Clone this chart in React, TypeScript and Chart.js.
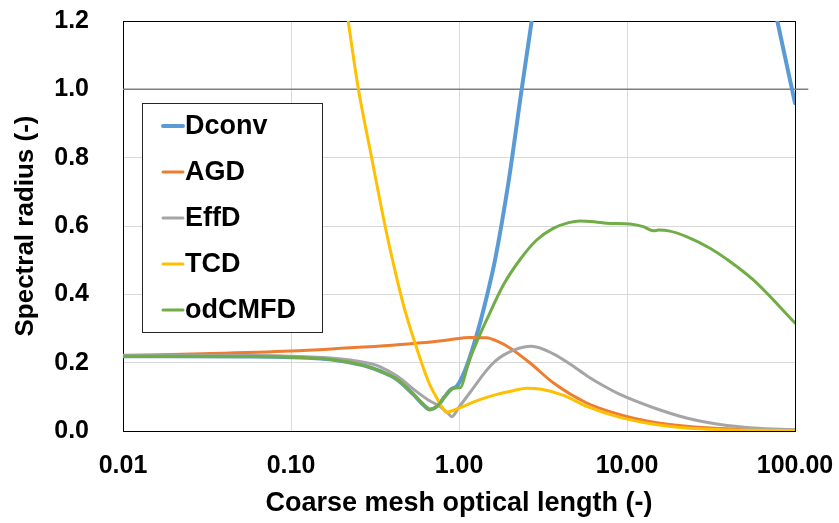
import { useEffect, useRef } from "react";
import { Chart, registerables } from "chart.js";

Chart.register(...registerables);

// Axis ticks
const xTickValues = [0.01, 0.1, 1, 10, 100];
const xTickLabels = ["0.01", "0.10", "1.00", "10.00", "100.00"];
const yTickValues = [0, 0.2, 0.4, 0.6, 0.8, 1.0, 1.2];
const yTickLabels = ["0.0", "0.2", "0.4", "0.6", "0.8", "1.0", "1.2"];

// Series names and colours
const seriesNames = ["Dconv", "AGD", "EffD", "TCD", "odCMFD"];
const seriesColors = ["#5B9BD5", "#ED7D31", "#A5A5A5", "#FFC000", "#70AD47"];
const seriesWidths = [4, 3, 3, 3, 3];

// Spectral radius vs coarse mesh optical length
const dconvX = [0.01, 0.02, 0.05, 0.1, 0.15, 0.2, 0.27, 0.34, 0.43, 0.535, 0.613, 0.67, 0.75, 0.82, 0.9, 0.97, 1.06, 1.16, 1.3, 1.49, 1.638, 1.966, 2.361, 2.708, 3.0, 70, 78.5, 100];
const dconvY = [0.219, 0.219, 0.218, 0.216, 0.212, 0.205, 0.192, 0.175, 0.15, 0.107, 0.077, 0.063, 0.075, 0.1, 0.123, 0.131, 0.165, 0.216, 0.296, 0.41, 0.5, 0.725, 1.0, 1.2, 1.35, 1.32, 1.2, 0.96];

const agdX = [0.01, 0.03, 0.1, 0.2, 0.4, 0.6, 0.88, 1.16, 1.46, 1.7, 2.01, 2.65, 3.64, 5.76, 9.08, 14.4, 22.6, 35.8, 56.5, 100];
const agdY = [0.221, 0.226, 0.234, 0.242, 0.251, 0.258, 0.267, 0.274, 0.273, 0.262, 0.243, 0.199, 0.141, 0.082, 0.048, 0.026, 0.014, 0.007, 0.004, 0.003];

const effdX = [0.01, 0.05, 0.1, 0.2, 0.3, 0.34, 0.43, 0.55, 0.66, 0.77, 0.86, 0.905, 1.0, 1.16, 1.33, 1.46, 1.65, 1.84, 2.1, 2.4, 2.7, 3.64, 4.58, 5.76, 7.2, 9.08, 14.4, 22.6, 35.8, 56.5, 100];
const effdY = [0.222, 0.221, 0.219, 0.211, 0.197, 0.188, 0.16, 0.118, 0.09, 0.072, 0.052, 0.042, 0.07, 0.112, 0.152, 0.178, 0.205, 0.222, 0.236, 0.245, 0.248, 0.226, 0.196, 0.162, 0.133, 0.107, 0.068, 0.038, 0.019, 0.009, 0.004];

const tcdX = [0.2, 0.219, 0.252, 0.302, 0.363, 0.417, 0.468, 0.525, 0.589, 0.661, 0.741, 0.794, 0.845, 0.92, 1.01, 1.33, 1.7, 2.1, 2.53, 3.1, 4.2, 5.76, 9.08, 14.4, 22.6, 35.8, 56.5, 100];
const tcdY = [1.34, 1.2, 1.0, 0.8, 0.6, 0.467, 0.367, 0.285, 0.21, 0.142, 0.095, 0.07, 0.055, 0.06, 0.068, 0.092, 0.108, 0.118, 0.125, 0.122, 0.104, 0.072, 0.04, 0.02, 0.009, 0.004, 0.002, 0.001];

const odcmfdX = [0.01, 0.02, 0.05, 0.1, 0.15, 0.2, 0.27, 0.34, 0.43, 0.535, 0.613, 0.67, 0.75, 0.82, 0.9, 0.946, 1.02, 1.11, 1.16, 1.3, 1.46, 1.84, 2.31, 2.9, 3.64, 4.5, 5.25, 6.5, 7.57, 10.4, 12.5, 14.4, 15.4, 18, 22.6, 31.2, 39.2, 56.5, 100];
const odcmfdY = [0.219, 0.219, 0.218, 0.216, 0.212, 0.205, 0.192, 0.175, 0.15, 0.107, 0.077, 0.063, 0.075, 0.1, 0.121, 0.126, 0.127, 0.18, 0.21, 0.27, 0.325, 0.428, 0.502, 0.559, 0.593, 0.61, 0.615, 0.612, 0.608, 0.606, 0.598, 0.586, 0.588, 0.585, 0.569, 0.535, 0.503, 0.442, 0.316];

// Unity reference line (extends slightly past the right edge)
const refLineX = [0.01, 120];
const refLineY = [1, 1];

const seriesX = [dconvX, agdX, effdX, tcdX, odcmfdX];
const seriesY = [dconvY, agdY, effdY, tcdY, odcmfdY];

const FONT = "'Liberation Sans', Arial, Helvetica, sans-serif";

const toPoints = (xs: number[], ys: number[]) => xs.map((x, i) => ({ x, y: ys[i] }));

const frameAndLegend = {
  id: "frameAndLegend",
  beforeDatasetsDraw(chart: any) {
    const { ctx, chartArea } = chart;
    ctx.save();
    ctx.strokeStyle = "#000";
    ctx.lineWidth = 1;
    ctx.strokeRect(chartArea.left + 0.5, chartArea.top + 0.5, chartArea.right - chartArea.left, chartArea.bottom - chartArea.top);
    ctx.restore();
  },
  afterDatasetsDraw(chart: any) {
    const { ctx, chartArea } = chart;
    const left = chartArea.left + 19;
    const top = chartArea.top + 82;
    const w = 180;
    const rowH = 46;
    const h = rowH * seriesNames.length - 1;
    ctx.save();
    ctx.fillStyle = "#fff";
    ctx.fillRect(left, top, w, h);
    ctx.strokeStyle = "#262626";
    ctx.lineWidth = 1;
    ctx.strokeRect(left + 0.5, top + 0.5, w, h);
    ctx.font = `bold 27px ${FONT}`;
    ctx.textBaseline = "middle";
    ctx.textAlign = "left";
    seriesNames.forEach((name, i) => {
      const cy = top + 23 + i * rowH;
      ctx.strokeStyle = seriesColors[i];
      ctx.lineWidth = seriesWidths[i];
      ctx.lineCap = "round";
      ctx.beginPath();
      ctx.moveTo(left + 21, cy);
      ctx.lineTo(left + 41, cy);
      ctx.stroke();
      ctx.fillStyle = "#000";
      ctx.fillText(name, left + 43, cy + 1);
    });
    ctx.restore();
  },
};

export default function App() {
  const canvasRef = useRef<HTMLCanvasElement>(null);

  useEffect(() => {
    const canvas = canvasRef.current;
    if (!canvas) return;

    const datasets: any[] = seriesNames.map((name, i) => ({
      label: name,
      data: toPoints(seriesX[i], seriesY[i]),
      borderColor: seriesColors[i],
      backgroundColor: seriesColors[i],
      borderWidth: seriesWidths[i],
      pointRadius: 0,
      cubicInterpolationMode: "monotone",
      borderCapStyle: "round",
      borderJoinStyle: "round",
      fill: false,
      order: seriesNames.length - i,
    }));
    datasets.push({
      label: "unity",
      data: toPoints(refLineX, refLineY),
      borderColor: "#7F7F7F",
      borderWidth: 1.5,
      pointRadius: 0,
      fill: false,
      order: 10,
      clip: { left: 0, top: 0, right: 16, bottom: 0 },
    });

    const chart = new Chart(canvas, {
      type: "line",
      data: { datasets },
      plugins: [frameAndLegend],
      options: {
        animation: false,
        responsive: false,
        devicePixelRatio: 1,
        layout: { padding: { left: 0, right: 44, top: 21, bottom: 0 } },
        plugins: {
          legend: { display: false },
          tooltip: { enabled: false },
        },
        scales: {
          x: {
            type: "logarithmic",
            min: 0.01,
            max: 100,
            afterBuildTicks: (scale: any) => {
              scale.ticks = xTickValues.map((v) => ({ value: v }));
            },
            afterFit: (scale: any) => {
              scale.height = 92;
              scale.paddingLeft = 0;
              scale.paddingRight = 0;
            },
            ticks: {
              autoSkip: false,
              maxRotation: 0,
              minRotation: 0,
              padding: 20,
              color: "#000",
              font: { family: FONT, size: 25, weight: "bold" },
              callback: (_v: any, i: number) => xTickLabels[i],
            },
            grid: { color: "#D9D9D9", lineWidth: 1, drawTicks: false },
            border: { display: false },
            title: {
              display: true,
              text: "Coarse mesh optical length (-)",
              color: "#000",
              font: { family: FONT, size: 27, weight: "bold" },
              padding: { top: 0, bottom: 3 },
            },
          },
          y: {
            type: "linear",
            min: 0,
            max: 1.2,
            afterBuildTicks: (scale: any) => {
              scale.ticks = yTickValues.map((v) => ({ value: v }));
            },
            afterFit: (scale: any) => {
              scale.width = 123;
              scale.paddingTop = 0;
              scale.paddingBottom = 0;
            },
            ticks: {
              autoSkip: false,
              padding: 34,
              color: "#000",
              font: { family: FONT, size: 25, weight: "bold" },
              callback: (_v: any, i: number) => yTickLabels[i],
            },
            grid: { color: "#D9D9D9", lineWidth: 1, drawTicks: false },
            border: { display: false },
            title: {
              display: true,
              text: "Spectral radius (-)",
              color: "#000",
              font: { family: FONT, size: 26, weight: "bold" },
              padding: { top: 10, bottom: 0 },
            },
          },
        },
      } as any,
    });

    return () => chart.destroy();
  }, []);

  return (
    <div style={{ position: "absolute", left: 0, top: 0, width: 839, height: 523, background: "#fff" }}>
      <canvas ref={canvasRef} width={839} height={523} style={{ display: "block", width: 839, height: 523 }} />
    </div>
  );
}
